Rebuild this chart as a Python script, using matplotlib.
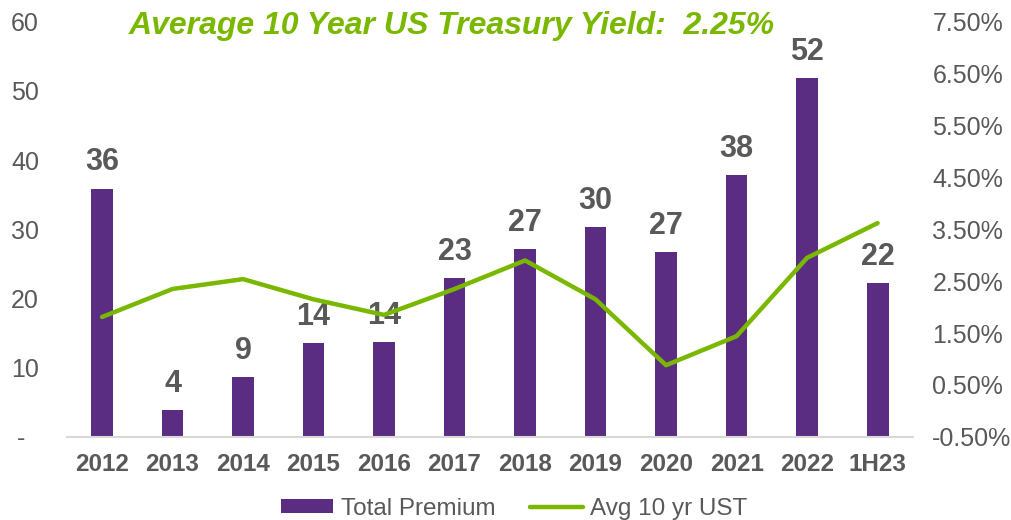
import numpy as np
import matplotlib.pyplot as plt

plt.rcParams['font.family'] = ['Liberation Sans', 'DejaVu Sans']

years = ['2012', '2013', '2014', '2015', '2016', '2017', '2018', '2019', '2020', '2021', '2022', '1H23']
premium = [35.9, 3.9, 8.6, 13.6, 13.7, 22.9, 27.2, 30.3, 26.7, 37.9, 51.9, 22.2]
ust = [1.81, 2.35, 2.54, 2.15, 1.85, 2.35, 2.90, 2.15, 0.88, 1.44, 2.95, 3.62]
premium_labels = ['36', '4', '9', '14', '14', '23', '27', '30', '27', '38', '52', '22']

purple = '#5A2D82'
green = '#7AB800'
gray = '#595959'

fig = plt.figure(figsize=(10.12, 5.2), dpi=100)
ax = fig.add_axes([0.066, 0.16, 0.836, 0.798])
ax2 = ax.twinx()

x = np.arange(len(years))
bars = ax.bar(x, premium, width=0.31, color=purple, zorder=2, label='Total Premium')
for xi, v, lab in zip(x, premium, premium_labels):
    ax.annotate(lab, (xi, v), xytext=(0, 8), textcoords='offset points',
                ha='center', va='bottom', fontsize=22, fontweight='bold', color=gray, zorder=5)

line, = ax2.plot(x, ust, color=green, lw=3.2, solid_capstyle='round', label='Avg 10 yr UST')

ax.set_xlim(-0.5, len(years) - 0.5)
ax.set_ylim(0, 60)
ax.set_yticks(range(0, 61, 10))
# accounting-style dash for zero, padded like the spreadsheet
ax.set_yticklabels(['-\u00a0\u00a0'] + [str(v) for v in range(10, 61, 10)])
ax2.set_ylim(-0.5, 7.5)
ax2.set_yticks(np.arange(-0.5, 7.6, 1.0))
ax2.set_yticklabels(['%.2f%%' % v for v in np.arange(-0.5, 7.6, 1.0)])

ax.set_xticks(x)
ax.set_xticklabels(years, fontsize=17.5, fontweight='bold', color=gray)
ax.tick_params(axis='x', length=0, pad=12)
ax.tick_params(axis='y', length=0, labelsize=18, labelcolor=gray, pad=20)
ax2.tick_params(axis='y', length=0, labelsize=18, labelcolor=gray, pad=14)

for a in (ax, ax2):
    for s in ['top', 'left', 'right']:
        a.spines[s].set_visible(False)
    a.spines['bottom'].set_color('#D9D9D9')
    a.spines['bottom'].set_linewidth(1.5)
ax2.spines['bottom'].set_visible(False)

fig.text(0.446, 0.95, 'Average 10 Year US Treasury Yield:  2.25%', ha='center', va='center',
         fontsize=23, fontweight='bold', fontstyle='italic', color=green)

fig.legend([bars, line], ['Total Premium', 'Avg 10 yr UST'], loc='center',
           bbox_to_anchor=(0.508, 0.022), ncol=2, frameon=False, fontsize=17.5,
           labelcolor=gray, handlelength=2.15, handleheight=0.55, columnspacing=1.45,
           handletextpad=0.3)

fig.savefig('out.png', dpi=100)
